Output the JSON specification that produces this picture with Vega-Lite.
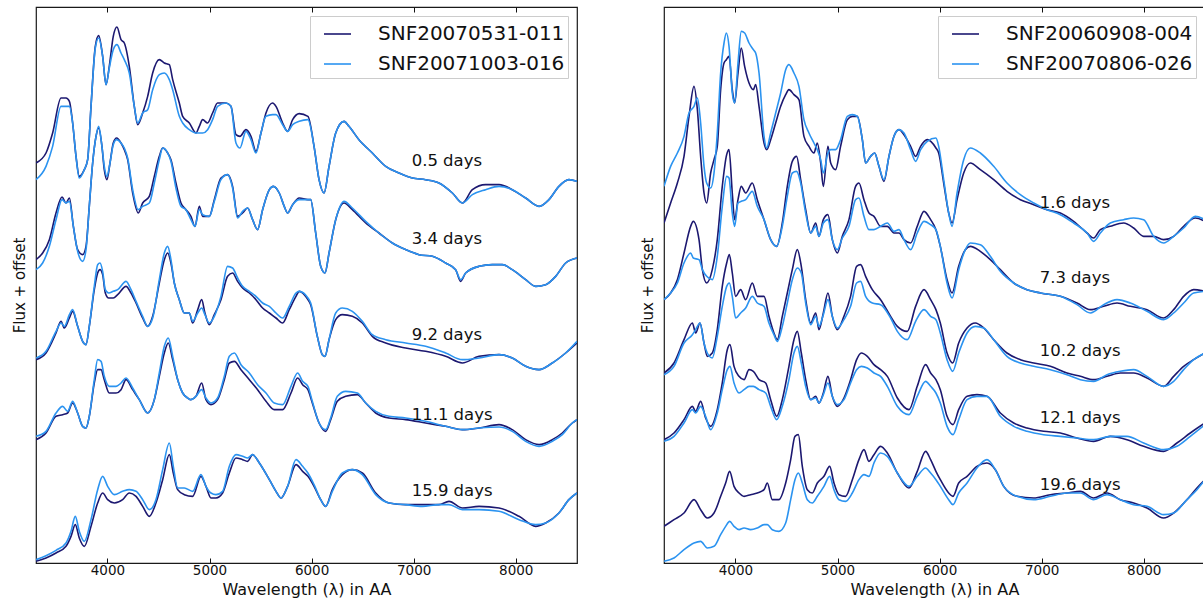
{
"$schema": "https://vega.github.io/schema/vega-lite/v6.json",
"background": "white",
"padding": {"left": 11, "top": 5, "right": 0, "bottom": 5},
"config": {
  "font": "DejaVu Sans",
  "view": {"stroke": "#1a1a1a", "strokeWidth": 1.2},
  "axis": {"grid": false, "labelFont": "DejaVu Sans", "titleFont": "DejaVu Sans", "titleFontWeight": "normal", "labelColor": "#111111", "titleColor": "#111111", "tickColor": "#111111"},
  "legend": {"title": null, "orient": "top-right", "offset": 9, "padding": 3.5, "fillColor": "#ffffff", "strokeColor": "#cccccc", "strokeWidth": 1, "cornerRadius": 0, "symbolType": "stroke", "symbolSize": 729, "symbolStrokeWidth": 1.6, "symbolOffset": 9.5, "labelFontSize": 20, "labelFont": "DejaVu Sans", "labelColor": "#111111", "labelOffset": 26, "rowPadding": 5, "labelLimit": 400}
},
"datasets": {
"namesL": [{"s":"a","n":"SNF20070531-011"},{"s":"b","n":"SNF20071003-016"}],
"namesR": [{"s":"a","n":"SNF20060908-004"},{"s":"b","n":"SNF20070806-026"}],
"labL": [{"w":6980,"f":12.05,"t":"0.5 days"},{"w":6980,"f":9.73,"t":"3.4 days"},{"w":6980,"f":6.85,"t":"9.2 days"},{"w":6980,"f":4.45,"t":"11.1 days"},{"w":6980,"f":2.15,"t":"15.9 days"}],
"labR": [{"w":6980,"f":10.8,"t":"1.6 days"},{"w":6980,"f":8.55,"t":"7.3 days"},{"w":6980,"f":6.37,"t":"10.2 days"},{"w":6980,"f":4.35,"t":"12.1 days"},{"w":6980,"f":2.33,"t":"19.6 days"}],
"specL": [
{"e":1,"s":"a","w":3300,"f":12},{"e":1,"s":"a","w":3398,"f":12.3},{"e":1,"s":"a","w":3463,"f":12.9},{"e":1,"s":"a","w":3545,"f":13.95},{"e":1,"s":"a","w":3594,"f":13.95},{"e":1,"s":"a","w":3627,"f":13.85},{"e":1,"s":"a","w":3659,"f":13.2},{"e":1,"s":"a","w":3692,"f":12.2},{"e":1,"s":"a","w":3724,"f":11.6},{"e":1,"s":"a","w":3773,"f":11.8},{"e":1,"s":"a","w":3806,"f":12.1},{"e":1,"s":"a","w":3839,"f":13.7},{"e":1,"s":"a","w":3881,"f":15.5},{"e":1,"s":"a","w":3914,"f":15.82},{"e":1,"s":"a","w":3953,"f":15.2},{"e":1,"s":"a","w":3986,"f":14.35},{"e":1,"s":"a","w":4018,"f":14.9},{"e":1,"s":"a","w":4057,"f":15.8},{"e":1,"s":"a","w":4093,"f":16.08},{"e":1,"s":"a","w":4133,"f":15.7},{"e":1,"s":"a","w":4165,"f":15.6},{"e":1,"s":"a","w":4214,"f":14.9},{"e":1,"s":"a","w":4263,"f":13.7},{"e":1,"s":"a","w":4296,"f":13.15},{"e":1,"s":"a","w":4345,"f":13.5},{"e":1,"s":"a","w":4394,"f":14},{"e":1,"s":"a","w":4443,"f":14.7},{"e":1,"s":"a","w":4508,"f":15.1},{"e":1,"s":"a","w":4557,"f":15},{"e":1,"s":"a","w":4606,"f":14.95},{"e":1,"s":"a","w":4639,"f":14.5},{"e":1,"s":"a","w":4704,"f":13.8},{"e":1,"s":"a","w":4737,"f":13.4},{"e":1,"s":"a","w":4802,"f":13.2},{"e":1,"s":"a","w":4867,"f":12.9},{"e":1,"s":"a","w":4900,"f":13.1},{"e":1,"s":"a","w":4933,"f":13.3},{"e":1,"s":"a","w":4981,"f":13.2},{"e":1,"s":"a","w":5030,"f":13.5},{"e":1,"s":"a","w":5079,"f":13.8},{"e":1,"s":"a","w":5161,"f":13.8},{"e":1,"s":"a","w":5210,"f":13.7},{"e":1,"s":"a","w":5259,"f":12.85},{"e":1,"s":"a","w":5298,"f":12.8},{"e":1,"s":"a","w":5357,"f":13},{"e":1,"s":"a","w":5406,"f":12.8},{"e":1,"s":"a","w":5455,"f":12.35},{"e":1,"s":"a","w":5504,"f":12.9},{"e":1,"s":"a","w":5553,"f":13.5},{"e":1,"s":"a","w":5618,"f":13.8},{"e":1,"s":"a","w":5651,"f":13.7},{"e":1,"s":"a","w":5716,"f":13.2},{"e":1,"s":"a","w":5765,"f":12.95},{"e":1,"s":"a","w":5814,"f":13.3},{"e":1,"s":"a","w":5879,"f":13.48},{"e":1,"s":"a","w":5964,"f":13.4},{"e":1,"s":"a","w":6024,"f":12.5},{"e":1,"s":"a","w":6073,"f":11.5},{"e":1,"s":"a","w":6122,"f":11.1},{"e":1,"s":"a","w":6171,"f":11.9},{"e":1,"s":"a","w":6236,"f":12.9},{"e":1,"s":"a","w":6318,"f":13.25},{"e":1,"s":"a","w":6366,"f":13.1},{"e":1,"s":"a","w":6464,"f":12.7},{"e":1,"s":"a","w":6595,"f":12.3},{"e":1,"s":"a","w":6726,"f":11.9},{"e":1,"s":"a","w":6856,"f":11.7},{"e":1,"s":"a","w":6987,"f":11.55},{"e":1,"s":"a","w":7117,"f":11.5},{"e":1,"s":"a","w":7248,"f":11.4},{"e":1,"s":"a","w":7379,"f":11.1},{"e":1,"s":"a","w":7477,"f":10.8},{"e":1,"s":"a","w":7575,"f":11.2},{"e":1,"s":"a","w":7705,"f":11.35},{"e":1,"s":"a","w":7836,"f":11.35},{"e":1,"s":"a","w":7966,"f":11.2},{"e":1,"s":"a","w":8097,"f":10.95},{"e":1,"s":"a","w":8228,"f":10.7},{"e":1,"s":"a","w":8325,"f":10.9},{"e":1,"s":"a","w":8423,"f":11.3},{"e":1,"s":"a","w":8521,"f":11.5},{"e":1,"s":"a","w":8600,"f":11.45},
{"e":2,"s":"a","w":3300,"f":9.1},{"e":2,"s":"a","w":3365,"f":9.3},{"e":2,"s":"a","w":3431,"f":9.7},{"e":2,"s":"a","w":3496,"f":10.5},{"e":2,"s":"a","w":3555,"f":10.98},{"e":2,"s":"a","w":3594,"f":10.8},{"e":2,"s":"a","w":3627,"f":10.95},{"e":2,"s":"a","w":3666,"f":10.1},{"e":2,"s":"a","w":3708,"f":9.4},{"e":2,"s":"a","w":3757,"f":9.25},{"e":2,"s":"a","w":3790,"f":9.5},{"e":2,"s":"a","w":3822,"f":10.7},{"e":2,"s":"a","w":3855,"f":12},{"e":2,"s":"a","w":3888,"f":12.8},{"e":2,"s":"a","w":3914,"f":13.05},{"e":2,"s":"a","w":3946,"f":12.5},{"e":2,"s":"a","w":3969,"f":11.8},{"e":2,"s":"a","w":3995,"f":11.5},{"e":2,"s":"a","w":4025,"f":12},{"e":2,"s":"a","w":4057,"f":12.6},{"e":2,"s":"a","w":4090,"f":12.75},{"e":2,"s":"a","w":4133,"f":12.6},{"e":2,"s":"a","w":4165,"f":12.4},{"e":2,"s":"a","w":4198,"f":12.1},{"e":2,"s":"a","w":4247,"f":11.1},{"e":2,"s":"a","w":4302,"f":10.5},{"e":2,"s":"a","w":4345,"f":10.8},{"e":2,"s":"a","w":4410,"f":11},{"e":2,"s":"a","w":4459,"f":11.6},{"e":2,"s":"a","w":4508,"f":12.2},{"e":2,"s":"a","w":4541,"f":12.45},{"e":2,"s":"a","w":4590,"f":12.3},{"e":2,"s":"a","w":4622,"f":12.1},{"e":2,"s":"a","w":4671,"f":11.4},{"e":2,"s":"a","w":4720,"f":10.8},{"e":2,"s":"a","w":4769,"f":10.6},{"e":2,"s":"a","w":4818,"f":10.4},{"e":2,"s":"a","w":4857,"f":10.1},{"e":2,"s":"a","w":4900,"f":10.7},{"e":2,"s":"a","w":4933,"f":10.4},{"e":2,"s":"a","w":4998,"f":10.4},{"e":2,"s":"a","w":5047,"f":10.9},{"e":2,"s":"a","w":5112,"f":11.55},{"e":2,"s":"a","w":5177,"f":11.65},{"e":2,"s":"a","w":5226,"f":11.3},{"e":2,"s":"a","w":5275,"f":10.4},{"e":2,"s":"a","w":5324,"f":10.5},{"e":2,"s":"a","w":5373,"f":10.65},{"e":2,"s":"a","w":5422,"f":10.3},{"e":2,"s":"a","w":5471,"f":10},{"e":2,"s":"a","w":5520,"f":10.6},{"e":2,"s":"a","w":5586,"f":11.2},{"e":2,"s":"a","w":5625,"f":11.3},{"e":2,"s":"a","w":5683,"f":11.1},{"e":2,"s":"a","w":5732,"f":10.7},{"e":2,"s":"a","w":5765,"f":10.5},{"e":2,"s":"a","w":5814,"f":10.75},{"e":2,"s":"a","w":5879,"f":10.95},{"e":2,"s":"a","w":5964,"f":10.9},{"e":2,"s":"a","w":5991,"f":10.9},{"e":2,"s":"a","w":6040,"f":9.9},{"e":2,"s":"a","w":6089,"f":8.9},{"e":2,"s":"a","w":6131,"f":8.7},{"e":2,"s":"a","w":6171,"f":9.3},{"e":2,"s":"a","w":6236,"f":10.3},{"e":2,"s":"a","w":6318,"f":10.8},{"e":2,"s":"a","w":6399,"f":10.6},{"e":2,"s":"a","w":6530,"f":10.2},{"e":2,"s":"a","w":6660,"f":9.9},{"e":2,"s":"a","w":6791,"f":9.6},{"e":2,"s":"a","w":6922,"f":9.4},{"e":2,"s":"a","w":7052,"f":9.25},{"e":2,"s":"a","w":7183,"f":9.2},{"e":2,"s":"a","w":7313,"f":9},{"e":2,"s":"a","w":7411,"f":8.8},{"e":2,"s":"a","w":7460,"f":8.45},{"e":2,"s":"a","w":7509,"f":8.7},{"e":2,"s":"a","w":7640,"f":8.9},{"e":2,"s":"a","w":7770,"f":8.95},{"e":2,"s":"a","w":7868,"f":8.95},{"e":2,"s":"a","w":7966,"f":8.8},{"e":2,"s":"a","w":8097,"f":8.5},{"e":2,"s":"a","w":8195,"f":8.3},{"e":2,"s":"a","w":8293,"f":8.35},{"e":2,"s":"a","w":8391,"f":8.6},{"e":2,"s":"a","w":8489,"f":9},{"e":2,"s":"a","w":8600,"f":9.15},
{"e":3,"s":"a","w":3300,"f":6.1},{"e":3,"s":"a","w":3398,"f":6.3},{"e":3,"s":"a","w":3496,"f":6.9},{"e":3,"s":"a","w":3545,"f":7.25},{"e":3,"s":"a","w":3578,"f":7.05},{"e":3,"s":"a","w":3627,"f":7.35},{"e":3,"s":"a","w":3659,"f":7.55},{"e":3,"s":"a","w":3708,"f":7.1},{"e":3,"s":"a","w":3757,"f":6.65},{"e":3,"s":"a","w":3790,"f":6.55},{"e":3,"s":"a","w":3822,"f":7.1},{"e":3,"s":"a","w":3871,"f":8.2},{"e":3,"s":"a","w":3904,"f":8.7},{"e":3,"s":"a","w":3927,"f":8.8},{"e":3,"s":"a","w":3953,"f":8.65},{"e":3,"s":"a","w":3979,"f":8.1},{"e":3,"s":"a","w":4012,"f":7.95},{"e":3,"s":"a","w":4057,"f":7.95},{"e":3,"s":"a","w":4100,"f":8.05},{"e":3,"s":"a","w":4182,"f":8.3},{"e":3,"s":"a","w":4231,"f":8.1},{"e":3,"s":"a","w":4280,"f":7.8},{"e":3,"s":"a","w":4345,"f":7.35},{"e":3,"s":"a","w":4394,"f":7.1},{"e":3,"s":"a","w":4443,"f":7.4},{"e":3,"s":"a","w":4508,"f":8.4},{"e":3,"s":"a","w":4557,"f":9.1},{"e":3,"s":"a","w":4590,"f":9.3},{"e":3,"s":"a","w":4622,"f":9},{"e":3,"s":"a","w":4655,"f":8.4},{"e":3,"s":"a","w":4704,"f":7.9},{"e":3,"s":"a","w":4753,"f":7.5},{"e":3,"s":"a","w":4802,"f":7.5},{"e":3,"s":"a","w":4835,"f":7.2},{"e":3,"s":"a","w":4884,"f":7.6},{"e":3,"s":"a","w":4923,"f":7.9},{"e":3,"s":"a","w":4955,"f":7.5},{"e":3,"s":"a","w":4998,"f":7.15},{"e":3,"s":"a","w":5047,"f":7.45},{"e":3,"s":"a","w":5112,"f":7.9},{"e":3,"s":"a","w":5177,"f":8.6},{"e":3,"s":"a","w":5226,"f":8.7},{"e":3,"s":"a","w":5275,"f":8.45},{"e":3,"s":"a","w":5324,"f":8.25},{"e":3,"s":"a","w":5390,"f":8.1},{"e":3,"s":"a","w":5455,"f":7.9},{"e":3,"s":"a","w":5520,"f":7.65},{"e":3,"s":"a","w":5586,"f":7.5},{"e":3,"s":"a","w":5651,"f":7.35},{"e":3,"s":"a","w":5716,"f":7.2},{"e":3,"s":"a","w":5781,"f":7.6},{"e":3,"s":"a","w":5847,"f":8},{"e":3,"s":"a","w":5879,"f":8.15},{"e":3,"s":"a","w":5964,"f":7.9},{"e":3,"s":"a","w":5991,"f":7.75},{"e":3,"s":"a","w":6056,"f":6.8},{"e":3,"s":"a","w":6105,"f":6.25},{"e":3,"s":"a","w":6131,"f":6.2},{"e":3,"s":"a","w":6171,"f":6.7},{"e":3,"s":"a","w":6236,"f":7.3},{"e":3,"s":"a","w":6301,"f":7.45},{"e":3,"s":"a","w":6399,"f":7.4},{"e":3,"s":"a","w":6497,"f":7.2},{"e":3,"s":"a","w":6595,"f":6.8},{"e":3,"s":"a","w":6726,"f":6.6},{"e":3,"s":"a","w":6922,"f":6.45},{"e":3,"s":"a","w":7117,"f":6.35},{"e":3,"s":"a","w":7313,"f":6.2},{"e":3,"s":"a","w":7477,"f":6},{"e":3,"s":"a","w":7640,"f":6.2},{"e":3,"s":"a","w":7836,"f":6.25},{"e":3,"s":"a","w":7966,"f":6.15},{"e":3,"s":"a","w":8097,"f":5.9},{"e":3,"s":"a","w":8228,"f":5.8},{"e":3,"s":"a","w":8358,"f":6},{"e":3,"s":"a","w":8489,"f":6.3},{"e":3,"s":"a","w":8600,"f":6.6},
{"e":4,"s":"a","w":3300,"f":3.7},{"e":4,"s":"a","w":3398,"f":3.9},{"e":4,"s":"a","w":3496,"f":4.4},{"e":4,"s":"a","w":3561,"f":4.45},{"e":4,"s":"a","w":3610,"f":4.5},{"e":4,"s":"a","w":3659,"f":4.8},{"e":4,"s":"a","w":3708,"f":4.5},{"e":4,"s":"a","w":3757,"f":4.1},{"e":4,"s":"a","w":3790,"f":4.05},{"e":4,"s":"a","w":3822,"f":4.4},{"e":4,"s":"a","w":3871,"f":5.4},{"e":4,"s":"a","w":3904,"f":5.8},{"e":4,"s":"a","w":3937,"f":5.8},{"e":4,"s":"a","w":3969,"f":5.5},{"e":4,"s":"a","w":4018,"f":5.1},{"e":4,"s":"a","w":4084,"f":5.1},{"e":4,"s":"a","w":4133,"f":5.2},{"e":4,"s":"a","w":4182,"f":5.5},{"e":4,"s":"a","w":4247,"f":5.2},{"e":4,"s":"a","w":4312,"f":4.9},{"e":4,"s":"a","w":4394,"f":4.5},{"e":4,"s":"a","w":4459,"f":4.9},{"e":4,"s":"a","w":4508,"f":5.6},{"e":4,"s":"a","w":4557,"f":6.3},{"e":4,"s":"a","w":4596,"f":6.6},{"e":4,"s":"a","w":4639,"f":6.1},{"e":4,"s":"a","w":4688,"f":5.5},{"e":4,"s":"a","w":4737,"f":5.1},{"e":4,"s":"a","w":4786,"f":4.95},{"e":4,"s":"a","w":4818,"f":4.9},{"e":4,"s":"a","w":4867,"f":5},{"e":4,"s":"a","w":4923,"f":5.4},{"e":4,"s":"a","w":4965,"f":4.9},{"e":4,"s":"a","w":5014,"f":4.75},{"e":4,"s":"a","w":5079,"f":4.9},{"e":4,"s":"a","w":5145,"f":5.5},{"e":4,"s":"a","w":5194,"f":6},{"e":4,"s":"a","w":5243,"f":6.05},{"e":4,"s":"a","w":5308,"f":5.8},{"e":4,"s":"a","w":5390,"f":5.5},{"e":4,"s":"a","w":5471,"f":5.2},{"e":4,"s":"a","w":5553,"f":4.85},{"e":4,"s":"a","w":5634,"f":4.6},{"e":4,"s":"a","w":5716,"f":4.6},{"e":4,"s":"a","w":5798,"f":5.1},{"e":4,"s":"a","w":5863,"f":5.55},{"e":4,"s":"a","w":5912,"f":5.35},{"e":4,"s":"a","w":5964,"f":5.2},{"e":4,"s":"a","w":6007,"f":4.8},{"e":4,"s":"a","w":6073,"f":4.2},{"e":4,"s":"a","w":6138,"f":3.95},{"e":4,"s":"a","w":6187,"f":4.3},{"e":4,"s":"a","w":6252,"f":4.85},{"e":4,"s":"a","w":6334,"f":5},{"e":4,"s":"a","w":6448,"f":5.05},{"e":4,"s":"a","w":6530,"f":4.8},{"e":4,"s":"a","w":6628,"f":4.5},{"e":4,"s":"a","w":6758,"f":4.35},{"e":4,"s":"a","w":6922,"f":4.3},{"e":4,"s":"a","w":7117,"f":4.2},{"e":4,"s":"a","w":7313,"f":4.1},{"e":4,"s":"a","w":7477,"f":4},{"e":4,"s":"a","w":7640,"f":4.05},{"e":4,"s":"a","w":7836,"f":4.15},{"e":4,"s":"a","w":7966,"f":4},{"e":4,"s":"a","w":8097,"f":3.7},{"e":4,"s":"a","w":8228,"f":3.55},{"e":4,"s":"a","w":8358,"f":3.7},{"e":4,"s":"a","w":8456,"f":3.9},{"e":4,"s":"a","w":8554,"f":4.2},{"e":4,"s":"a","w":8600,"f":4.3},
{"e":5,"s":"a","w":3300,"f":0.05},{"e":5,"s":"a","w":3398,"f":0.15},{"e":5,"s":"a","w":3496,"f":0.3},{"e":5,"s":"a","w":3594,"f":0.5},{"e":5,"s":"a","w":3643,"f":0.8},{"e":5,"s":"a","w":3685,"f":1.15},{"e":5,"s":"a","w":3724,"f":0.75},{"e":5,"s":"a","w":3773,"f":0.5},{"e":5,"s":"a","w":3839,"f":1.1},{"e":5,"s":"a","w":3904,"f":1.8},{"e":5,"s":"a","w":3953,"f":2.1},{"e":5,"s":"a","w":4002,"f":1.9},{"e":5,"s":"a","w":4067,"f":1.8},{"e":5,"s":"a","w":4149,"f":1.9},{"e":5,"s":"a","w":4214,"f":2.1},{"e":5,"s":"a","w":4280,"f":2},{"e":5,"s":"a","w":4345,"f":1.7},{"e":5,"s":"a","w":4410,"f":1.4},{"e":5,"s":"a","w":4475,"f":1.8},{"e":5,"s":"a","w":4541,"f":2.5},{"e":5,"s":"a","w":4606,"f":3.25},{"e":5,"s":"a","w":4645,"f":2.7},{"e":5,"s":"a","w":4688,"f":2.2},{"e":5,"s":"a","w":4753,"f":2.05},{"e":5,"s":"a","w":4835,"f":2},{"e":5,"s":"a","w":4916,"f":2.6},{"e":5,"s":"a","w":4965,"f":2.3},{"e":5,"s":"a","w":5014,"f":1.95},{"e":5,"s":"a","w":5063,"f":1.95},{"e":5,"s":"a","w":5128,"f":2.1},{"e":5,"s":"a","w":5194,"f":2.7},{"e":5,"s":"a","w":5259,"f":3.15},{"e":5,"s":"a","w":5324,"f":3.1},{"e":5,"s":"a","w":5373,"f":3.05},{"e":5,"s":"a","w":5422,"f":3.25},{"e":5,"s":"a","w":5488,"f":3},{"e":5,"s":"a","w":5586,"f":2.5},{"e":5,"s":"a","w":5651,"f":2.15},{"e":5,"s":"a","w":5700,"f":1.95},{"e":5,"s":"a","w":5765,"f":2.3},{"e":5,"s":"a","w":5847,"f":2.95},{"e":5,"s":"a","w":5912,"f":2.75},{"e":5,"s":"a","w":5964,"f":2.6},{"e":5,"s":"a","w":6024,"f":2.3},{"e":5,"s":"a","w":6089,"f":1.9},{"e":5,"s":"a","w":6138,"f":1.7},{"e":5,"s":"a","w":6203,"f":2.2},{"e":5,"s":"a","w":6301,"f":2.65},{"e":5,"s":"a","w":6399,"f":2.8},{"e":5,"s":"a","w":6497,"f":2.7},{"e":5,"s":"a","w":6628,"f":2.1},{"e":5,"s":"a","w":6758,"f":1.8},{"e":5,"s":"a","w":6922,"f":1.75},{"e":5,"s":"a","w":7085,"f":1.75},{"e":5,"s":"a","w":7248,"f":1.75},{"e":5,"s":"a","w":7346,"f":1.85},{"e":5,"s":"a","w":7477,"f":1.65},{"e":5,"s":"a","w":7640,"f":1.7},{"e":5,"s":"a","w":7836,"f":1.65},{"e":5,"s":"a","w":8032,"f":1.4},{"e":5,"s":"a","w":8195,"f":1.1},{"e":5,"s":"a","w":8293,"f":1.2},{"e":5,"s":"a","w":8423,"f":1.5},{"e":5,"s":"a","w":8521,"f":1.9},{"e":5,"s":"a","w":8600,"f":2.1},
{"e":1,"s":"b","w":3300,"f":11.5},{"e":1,"s":"b","w":3398,"f":11.9},{"e":1,"s":"b","w":3463,"f":12.5},{"e":1,"s":"b","w":3545,"f":13.7},{"e":1,"s":"b","w":3594,"f":13.7},{"e":1,"s":"b","w":3627,"f":13.7},{"e":1,"s":"b","w":3659,"f":13.2},{"e":1,"s":"b","w":3692,"f":12.2},{"e":1,"s":"b","w":3724,"f":11.55},{"e":1,"s":"b","w":3773,"f":11.8},{"e":1,"s":"b","w":3806,"f":12.1},{"e":1,"s":"b","w":3839,"f":13.7},{"e":1,"s":"b","w":3881,"f":15.45},{"e":1,"s":"b","w":3914,"f":15.75},{"e":1,"s":"b","w":3953,"f":15.2},{"e":1,"s":"b","w":3986,"f":14.35},{"e":1,"s":"b","w":4018,"f":14.85},{"e":1,"s":"b","w":4057,"f":15.4},{"e":1,"s":"b","w":4093,"f":15.55},{"e":1,"s":"b","w":4133,"f":15.3},{"e":1,"s":"b","w":4165,"f":15.1},{"e":1,"s":"b","w":4214,"f":14.7},{"e":1,"s":"b","w":4263,"f":13.7},{"e":1,"s":"b","w":4296,"f":13.2},{"e":1,"s":"b","w":4345,"f":13.5},{"e":1,"s":"b","w":4394,"f":13.6},{"e":1,"s":"b","w":4443,"f":14.2},{"e":1,"s":"b","w":4508,"f":14.65},{"e":1,"s":"b","w":4557,"f":14.7},{"e":1,"s":"b","w":4606,"f":14.5},{"e":1,"s":"b","w":4639,"f":14.2},{"e":1,"s":"b","w":4704,"f":13.4},{"e":1,"s":"b","w":4737,"f":13.2},{"e":1,"s":"b","w":4802,"f":13},{"e":1,"s":"b","w":4867,"f":12.9},{"e":1,"s":"b","w":4900,"f":12.9},{"e":1,"s":"b","w":4933,"f":12.9},{"e":1,"s":"b","w":4981,"f":13},{"e":1,"s":"b","w":5030,"f":13.3},{"e":1,"s":"b","w":5079,"f":13.7},{"e":1,"s":"b","w":5161,"f":13.8},{"e":1,"s":"b","w":5210,"f":13.7},{"e":1,"s":"b","w":5259,"f":12.6},{"e":1,"s":"b","w":5298,"f":12.45},{"e":1,"s":"b","w":5357,"f":12.95},{"e":1,"s":"b","w":5406,"f":12.7},{"e":1,"s":"b","w":5455,"f":12.3},{"e":1,"s":"b","w":5504,"f":12.9},{"e":1,"s":"b","w":5553,"f":13.4},{"e":1,"s":"b","w":5618,"f":13.45},{"e":1,"s":"b","w":5651,"f":13.45},{"e":1,"s":"b","w":5716,"f":13.15},{"e":1,"s":"b","w":5765,"f":12.95},{"e":1,"s":"b","w":5814,"f":13.15},{"e":1,"s":"b","w":5879,"f":13.25},{"e":1,"s":"b","w":5964,"f":13.3},{"e":1,"s":"b","w":6024,"f":12.5},{"e":1,"s":"b","w":6073,"f":11.5},{"e":1,"s":"b","w":6122,"f":11.1},{"e":1,"s":"b","w":6171,"f":11.9},{"e":1,"s":"b","w":6236,"f":12.9},{"e":1,"s":"b","w":6318,"f":13.25},{"e":1,"s":"b","w":6366,"f":13.1},{"e":1,"s":"b","w":6464,"f":12.7},{"e":1,"s":"b","w":6595,"f":12.3},{"e":1,"s":"b","w":6726,"f":11.9},{"e":1,"s":"b","w":6856,"f":11.7},{"e":1,"s":"b","w":6987,"f":11.55},{"e":1,"s":"b","w":7117,"f":11.5},{"e":1,"s":"b","w":7248,"f":11.4},{"e":1,"s":"b","w":7379,"f":11.1},{"e":1,"s":"b","w":7477,"f":10.8},{"e":1,"s":"b","w":7575,"f":11.05},{"e":1,"s":"b","w":7705,"f":11.2},{"e":1,"s":"b","w":7836,"f":11.3},{"e":1,"s":"b","w":7966,"f":11.2},{"e":1,"s":"b","w":8097,"f":10.95},{"e":1,"s":"b","w":8228,"f":10.7},{"e":1,"s":"b","w":8325,"f":10.9},{"e":1,"s":"b","w":8423,"f":11.3},{"e":1,"s":"b","w":8521,"f":11.5},{"e":1,"s":"b","w":8600,"f":11.45},
{"e":2,"s":"b","w":3300,"f":8.8},{"e":2,"s":"b","w":3365,"f":9},{"e":2,"s":"b","w":3431,"f":9.5},{"e":2,"s":"b","w":3496,"f":10.3},{"e":2,"s":"b","w":3555,"f":10.9},{"e":2,"s":"b","w":3594,"f":10.8},{"e":2,"s":"b","w":3627,"f":10.85},{"e":2,"s":"b","w":3666,"f":10.1},{"e":2,"s":"b","w":3708,"f":9.35},{"e":2,"s":"b","w":3757,"f":9.05},{"e":2,"s":"b","w":3790,"f":9.4},{"e":2,"s":"b","w":3822,"f":10.7},{"e":2,"s":"b","w":3855,"f":12},{"e":2,"s":"b","w":3888,"f":12.8},{"e":2,"s":"b","w":3914,"f":13.1},{"e":2,"s":"b","w":3946,"f":12.5},{"e":2,"s":"b","w":3969,"f":11.9},{"e":2,"s":"b","w":3995,"f":11.6},{"e":2,"s":"b","w":4025,"f":12},{"e":2,"s":"b","w":4057,"f":12.55},{"e":2,"s":"b","w":4090,"f":12.7},{"e":2,"s":"b","w":4133,"f":12.6},{"e":2,"s":"b","w":4165,"f":12.45},{"e":2,"s":"b","w":4198,"f":12.15},{"e":2,"s":"b","w":4247,"f":11.2},{"e":2,"s":"b","w":4302,"f":10.6},{"e":2,"s":"b","w":4345,"f":10.7},{"e":2,"s":"b","w":4410,"f":10.8},{"e":2,"s":"b","w":4459,"f":11.4},{"e":2,"s":"b","w":4508,"f":12.1},{"e":2,"s":"b","w":4541,"f":12.45},{"e":2,"s":"b","w":4590,"f":12.3},{"e":2,"s":"b","w":4622,"f":12.05},{"e":2,"s":"b","w":4671,"f":11.25},{"e":2,"s":"b","w":4720,"f":10.7},{"e":2,"s":"b","w":4769,"f":10.6},{"e":2,"s":"b","w":4818,"f":10.3},{"e":2,"s":"b","w":4857,"f":10.1},{"e":2,"s":"b","w":4900,"f":10.6},{"e":2,"s":"b","w":4933,"f":10.45},{"e":2,"s":"b","w":4998,"f":10.4},{"e":2,"s":"b","w":5047,"f":10.85},{"e":2,"s":"b","w":5112,"f":11.5},{"e":2,"s":"b","w":5177,"f":11.65},{"e":2,"s":"b","w":5226,"f":11.25},{"e":2,"s":"b","w":5275,"f":10.35},{"e":2,"s":"b","w":5324,"f":10.55},{"e":2,"s":"b","w":5373,"f":10.65},{"e":2,"s":"b","w":5422,"f":10.3},{"e":2,"s":"b","w":5471,"f":10},{"e":2,"s":"b","w":5520,"f":10.6},{"e":2,"s":"b","w":5586,"f":11.2},{"e":2,"s":"b","w":5625,"f":11.3},{"e":2,"s":"b","w":5683,"f":11.1},{"e":2,"s":"b","w":5732,"f":10.7},{"e":2,"s":"b","w":5765,"f":10.5},{"e":2,"s":"b","w":5814,"f":10.75},{"e":2,"s":"b","w":5879,"f":10.9},{"e":2,"s":"b","w":5964,"f":10.9},{"e":2,"s":"b","w":5991,"f":10.9},{"e":2,"s":"b","w":6040,"f":9.9},{"e":2,"s":"b","w":6089,"f":8.9},{"e":2,"s":"b","w":6131,"f":8.7},{"e":2,"s":"b","w":6171,"f":9.3},{"e":2,"s":"b","w":6236,"f":10.3},{"e":2,"s":"b","w":6318,"f":10.85},{"e":2,"s":"b","w":6399,"f":10.65},{"e":2,"s":"b","w":6530,"f":10.25},{"e":2,"s":"b","w":6660,"f":9.9},{"e":2,"s":"b","w":6791,"f":9.6},{"e":2,"s":"b","w":6922,"f":9.4},{"e":2,"s":"b","w":7052,"f":9.25},{"e":2,"s":"b","w":7183,"f":9.2},{"e":2,"s":"b","w":7313,"f":9},{"e":2,"s":"b","w":7411,"f":8.8},{"e":2,"s":"b","w":7460,"f":8.5},{"e":2,"s":"b","w":7509,"f":8.7},{"e":2,"s":"b","w":7640,"f":8.9},{"e":2,"s":"b","w":7770,"f":8.95},{"e":2,"s":"b","w":7868,"f":8.95},{"e":2,"s":"b","w":7966,"f":8.8},{"e":2,"s":"b","w":8097,"f":8.5},{"e":2,"s":"b","w":8195,"f":8.3},{"e":2,"s":"b","w":8293,"f":8.35},{"e":2,"s":"b","w":8391,"f":8.6},{"e":2,"s":"b","w":8489,"f":9},{"e":2,"s":"b","w":8600,"f":9.15},
{"e":3,"s":"b","w":3300,"f":6.15},{"e":3,"s":"b","w":3398,"f":6.35},{"e":3,"s":"b","w":3496,"f":6.95},{"e":3,"s":"b","w":3545,"f":7.2},{"e":3,"s":"b","w":3578,"f":7.1},{"e":3,"s":"b","w":3627,"f":7.45},{"e":3,"s":"b","w":3659,"f":7.6},{"e":3,"s":"b","w":3708,"f":7.1},{"e":3,"s":"b","w":3757,"f":6.65},{"e":3,"s":"b","w":3790,"f":6.55},{"e":3,"s":"b","w":3822,"f":7.1},{"e":3,"s":"b","w":3871,"f":8.3},{"e":3,"s":"b","w":3904,"f":8.95},{"e":3,"s":"b","w":3927,"f":9},{"e":3,"s":"b","w":3953,"f":8.75},{"e":3,"s":"b","w":3979,"f":8.2},{"e":3,"s":"b","w":4012,"f":8.1},{"e":3,"s":"b","w":4057,"f":8.15},{"e":3,"s":"b","w":4100,"f":8.2},{"e":3,"s":"b","w":4182,"f":8.45},{"e":3,"s":"b","w":4231,"f":8.2},{"e":3,"s":"b","w":4280,"f":7.85},{"e":3,"s":"b","w":4345,"f":7.4},{"e":3,"s":"b","w":4394,"f":7.1},{"e":3,"s":"b","w":4443,"f":7.35},{"e":3,"s":"b","w":4508,"f":8.5},{"e":3,"s":"b","w":4557,"f":9.3},{"e":3,"s":"b","w":4590,"f":9.5},{"e":3,"s":"b","w":4622,"f":9.1},{"e":3,"s":"b","w":4655,"f":8.4},{"e":3,"s":"b","w":4704,"f":7.9},{"e":3,"s":"b","w":4753,"f":7.5},{"e":3,"s":"b","w":4802,"f":7.5},{"e":3,"s":"b","w":4835,"f":7.25},{"e":3,"s":"b","w":4884,"f":7.5},{"e":3,"s":"b","w":4923,"f":7.65},{"e":3,"s":"b","w":4955,"f":7.45},{"e":3,"s":"b","w":4998,"f":7.2},{"e":3,"s":"b","w":5047,"f":7.4},{"e":3,"s":"b","w":5112,"f":8},{"e":3,"s":"b","w":5177,"f":8.9},{"e":3,"s":"b","w":5226,"f":8.85},{"e":3,"s":"b","w":5275,"f":8.55},{"e":3,"s":"b","w":5324,"f":8.3},{"e":3,"s":"b","w":5390,"f":8.15},{"e":3,"s":"b","w":5455,"f":8},{"e":3,"s":"b","w":5520,"f":7.8},{"e":3,"s":"b","w":5586,"f":7.7},{"e":3,"s":"b","w":5651,"f":7.5},{"e":3,"s":"b","w":5716,"f":7.35},{"e":3,"s":"b","w":5781,"f":7.7},{"e":3,"s":"b","w":5847,"f":8.1},{"e":3,"s":"b","w":5879,"f":8.15},{"e":3,"s":"b","w":5964,"f":7.95},{"e":3,"s":"b","w":5991,"f":7.8},{"e":3,"s":"b","w":6056,"f":6.8},{"e":3,"s":"b","w":6105,"f":6.25},{"e":3,"s":"b","w":6131,"f":6.2},{"e":3,"s":"b","w":6171,"f":6.7},{"e":3,"s":"b","w":6236,"f":7.5},{"e":3,"s":"b","w":6301,"f":7.65},{"e":3,"s":"b","w":6399,"f":7.55},{"e":3,"s":"b","w":6497,"f":7.25},{"e":3,"s":"b","w":6595,"f":6.85},{"e":3,"s":"b","w":6726,"f":6.7},{"e":3,"s":"b","w":6922,"f":6.6},{"e":3,"s":"b","w":7117,"f":6.5},{"e":3,"s":"b","w":7313,"f":6.3},{"e":3,"s":"b","w":7477,"f":6.1},{"e":3,"s":"b","w":7640,"f":6.15},{"e":3,"s":"b","w":7836,"f":6.25},{"e":3,"s":"b","w":7966,"f":6.15},{"e":3,"s":"b","w":8097,"f":5.9},{"e":3,"s":"b","w":8228,"f":5.8},{"e":3,"s":"b","w":8358,"f":6},{"e":3,"s":"b","w":8489,"f":6.3},{"e":3,"s":"b","w":8600,"f":6.65},
{"e":4,"s":"b","w":3300,"f":3.8},{"e":4,"s":"b","w":3398,"f":3.95},{"e":4,"s":"b","w":3496,"f":4.5},{"e":4,"s":"b","w":3561,"f":4.7},{"e":4,"s":"b","w":3610,"f":4.55},{"e":4,"s":"b","w":3659,"f":4.85},{"e":4,"s":"b","w":3708,"f":4.5},{"e":4,"s":"b","w":3757,"f":4.1},{"e":4,"s":"b","w":3790,"f":4.05},{"e":4,"s":"b","w":3822,"f":4.4},{"e":4,"s":"b","w":3871,"f":5.5},{"e":4,"s":"b","w":3904,"f":6.1},{"e":4,"s":"b","w":3937,"f":6.05},{"e":4,"s":"b","w":3969,"f":5.6},{"e":4,"s":"b","w":4018,"f":5.3},{"e":4,"s":"b","w":4084,"f":5.3},{"e":4,"s":"b","w":4133,"f":5.4},{"e":4,"s":"b","w":4182,"f":5.55},{"e":4,"s":"b","w":4247,"f":5.25},{"e":4,"s":"b","w":4312,"f":4.9},{"e":4,"s":"b","w":4394,"f":4.5},{"e":4,"s":"b","w":4459,"f":4.9},{"e":4,"s":"b","w":4508,"f":5.7},{"e":4,"s":"b","w":4557,"f":6.5},{"e":4,"s":"b","w":4596,"f":6.75},{"e":4,"s":"b","w":4639,"f":6.2},{"e":4,"s":"b","w":4688,"f":5.5},{"e":4,"s":"b","w":4737,"f":5.1},{"e":4,"s":"b","w":4786,"f":4.95},{"e":4,"s":"b","w":4818,"f":4.9},{"e":4,"s":"b","w":4867,"f":5},{"e":4,"s":"b","w":4923,"f":5.2},{"e":4,"s":"b","w":4965,"f":4.95},{"e":4,"s":"b","w":5014,"f":4.8},{"e":4,"s":"b","w":5079,"f":4.95},{"e":4,"s":"b","w":5145,"f":5.6},{"e":4,"s":"b","w":5194,"f":6.2},{"e":4,"s":"b","w":5243,"f":6.3},{"e":4,"s":"b","w":5308,"f":5.95},{"e":4,"s":"b","w":5390,"f":5.7},{"e":4,"s":"b","w":5471,"f":5.35},{"e":4,"s":"b","w":5553,"f":5.1},{"e":4,"s":"b","w":5634,"f":4.8},{"e":4,"s":"b","w":5716,"f":4.75},{"e":4,"s":"b","w":5798,"f":5.3},{"e":4,"s":"b","w":5863,"f":5.7},{"e":4,"s":"b","w":5912,"f":5.45},{"e":4,"s":"b","w":5964,"f":5.3},{"e":4,"s":"b","w":6007,"f":4.85},{"e":4,"s":"b","w":6073,"f":4.2},{"e":4,"s":"b","w":6138,"f":4},{"e":4,"s":"b","w":6187,"f":4.35},{"e":4,"s":"b","w":6252,"f":5},{"e":4,"s":"b","w":6334,"f":5.15},{"e":4,"s":"b","w":6448,"f":5.1},{"e":4,"s":"b","w":6530,"f":4.8},{"e":4,"s":"b","w":6628,"f":4.55},{"e":4,"s":"b","w":6758,"f":4.4},{"e":4,"s":"b","w":6922,"f":4.35},{"e":4,"s":"b","w":7117,"f":4.25},{"e":4,"s":"b","w":7313,"f":4.1},{"e":4,"s":"b","w":7477,"f":4},{"e":4,"s":"b","w":7640,"f":4.05},{"e":4,"s":"b","w":7836,"f":4.08},{"e":4,"s":"b","w":7966,"f":3.95},{"e":4,"s":"b","w":8097,"f":3.65},{"e":4,"s":"b","w":8228,"f":3.5},{"e":4,"s":"b","w":8358,"f":3.65},{"e":4,"s":"b","w":8456,"f":3.85},{"e":4,"s":"b","w":8554,"f":4.2},{"e":4,"s":"b","w":8600,"f":4.3},
{"e":5,"s":"b","w":3300,"f":0.1},{"e":5,"s":"b","w":3398,"f":0.22},{"e":5,"s":"b","w":3496,"f":0.38},{"e":5,"s":"b","w":3594,"f":0.6},{"e":5,"s":"b","w":3643,"f":0.95},{"e":5,"s":"b","w":3685,"f":1.4},{"e":5,"s":"b","w":3724,"f":0.95},{"e":5,"s":"b","w":3773,"f":0.65},{"e":5,"s":"b","w":3839,"f":1.3},{"e":5,"s":"b","w":3904,"f":2.2},{"e":5,"s":"b","w":3953,"f":2.6},{"e":5,"s":"b","w":4002,"f":2.3},{"e":5,"s":"b","w":4067,"f":2.05},{"e":5,"s":"b","w":4149,"f":2.15},{"e":5,"s":"b","w":4214,"f":2.2},{"e":5,"s":"b","w":4280,"f":2.15},{"e":5,"s":"b","w":4345,"f":1.9},{"e":5,"s":"b","w":4410,"f":1.6},{"e":5,"s":"b","w":4475,"f":1.9},{"e":5,"s":"b","w":4541,"f":2.8},{"e":5,"s":"b","w":4606,"f":3.6},{"e":5,"s":"b","w":4645,"f":2.9},{"e":5,"s":"b","w":4688,"f":2.25},{"e":5,"s":"b","w":4753,"f":2.25},{"e":5,"s":"b","w":4835,"f":2.15},{"e":5,"s":"b","w":4916,"f":2.65},{"e":5,"s":"b","w":4965,"f":2.3},{"e":5,"s":"b","w":5014,"f":2.1},{"e":5,"s":"b","w":5063,"f":2.05},{"e":5,"s":"b","w":5128,"f":2.15},{"e":5,"s":"b","w":5194,"f":2.9},{"e":5,"s":"b","w":5259,"f":3.25},{"e":5,"s":"b","w":5324,"f":3.2},{"e":5,"s":"b","w":5373,"f":3.15},{"e":5,"s":"b","w":5422,"f":3.25},{"e":5,"s":"b","w":5488,"f":3},{"e":5,"s":"b","w":5586,"f":2.5},{"e":5,"s":"b","w":5651,"f":2.15},{"e":5,"s":"b","w":5700,"f":1.95},{"e":5,"s":"b","w":5765,"f":2.3},{"e":5,"s":"b","w":5847,"f":3.1},{"e":5,"s":"b","w":5912,"f":2.9},{"e":5,"s":"b","w":5964,"f":2.7},{"e":5,"s":"b","w":6024,"f":2.35},{"e":5,"s":"b","w":6089,"f":1.9},{"e":5,"s":"b","w":6138,"f":1.7},{"e":5,"s":"b","w":6203,"f":2.15},{"e":5,"s":"b","w":6301,"f":2.7},{"e":5,"s":"b","w":6399,"f":2.8},{"e":5,"s":"b","w":6497,"f":2.65},{"e":5,"s":"b","w":6628,"f":2.05},{"e":5,"s":"b","w":6758,"f":1.8},{"e":5,"s":"b","w":6922,"f":1.75},{"e":5,"s":"b","w":7085,"f":1.7},{"e":5,"s":"b","w":7248,"f":1.75},{"e":5,"s":"b","w":7346,"f":1.75},{"e":5,"s":"b","w":7477,"f":1.6},{"e":5,"s":"b","w":7640,"f":1.6},{"e":5,"s":"b","w":7836,"f":1.55},{"e":5,"s":"b","w":8032,"f":1.3},{"e":5,"s":"b","w":8195,"f":1.15},{"e":5,"s":"b","w":8293,"f":1.2},{"e":5,"s":"b","w":8423,"f":1.5},{"e":5,"s":"b","w":8521,"f":1.9},{"e":5,"s":"b","w":8600,"f":2.1}
],
"specR": [
{"e":1,"s":"a","w":3300,"f":10.2},{"e":1,"s":"a","w":3365,"f":10.8},{"e":1,"s":"a","w":3431,"f":11.4},{"e":1,"s":"a","w":3496,"f":12.2},{"e":1,"s":"a","w":3545,"f":13.4},{"e":1,"s":"a","w":3594,"f":14.3},{"e":1,"s":"a","w":3627,"f":13.6},{"e":1,"s":"a","w":3659,"f":12.2},{"e":1,"s":"a","w":3692,"f":11.1},{"e":1,"s":"a","w":3718,"f":10.8},{"e":1,"s":"a","w":3757,"f":11.7},{"e":1,"s":"a","w":3790,"f":12.1},{"e":1,"s":"a","w":3822,"f":12.5},{"e":1,"s":"a","w":3855,"f":14.2},{"e":1,"s":"a","w":3888,"f":15},{"e":1,"s":"a","w":3911,"f":15.1},{"e":1,"s":"a","w":3937,"f":15.2},{"e":1,"s":"a","w":3969,"f":14.2},{"e":1,"s":"a","w":3992,"f":13.8},{"e":1,"s":"a","w":4025,"f":14.7},{"e":1,"s":"a","w":4057,"f":15.45},{"e":1,"s":"a","w":4090,"f":14.9},{"e":1,"s":"a","w":4133,"f":14.4},{"e":1,"s":"a","w":4175,"f":14.2},{"e":1,"s":"a","w":4198,"f":14.35},{"e":1,"s":"a","w":4231,"f":13.7},{"e":1,"s":"a","w":4280,"f":12.6},{"e":1,"s":"a","w":4306,"f":12.4},{"e":1,"s":"a","w":4345,"f":12.7},{"e":1,"s":"a","w":4394,"f":13.2},{"e":1,"s":"a","w":4443,"f":13.7},{"e":1,"s":"a","w":4492,"f":14.05},{"e":1,"s":"a","w":4524,"f":14.2},{"e":1,"s":"a","w":4573,"f":14.05},{"e":1,"s":"a","w":4622,"f":13.9},{"e":1,"s":"a","w":4671,"f":12.8},{"e":1,"s":"a","w":4720,"f":12.5},{"e":1,"s":"a","w":4769,"f":12.3},{"e":1,"s":"a","w":4802,"f":12.6},{"e":1,"s":"a","w":4835,"f":12},{"e":1,"s":"a","w":4861,"f":11.3},{"e":1,"s":"a","w":4906,"f":12.5},{"e":1,"s":"a","w":4933,"f":12},{"e":1,"s":"a","w":4981,"f":11.8},{"e":1,"s":"a","w":5030,"f":12.5},{"e":1,"s":"a","w":5096,"f":13.3},{"e":1,"s":"a","w":5145,"f":13.4},{"e":1,"s":"a","w":5194,"f":13.4},{"e":1,"s":"a","w":5243,"f":12.7},{"e":1,"s":"a","w":5275,"f":12},{"e":1,"s":"a","w":5324,"f":12.2},{"e":1,"s":"a","w":5363,"f":12.3},{"e":1,"s":"a","w":5406,"f":11.9},{"e":1,"s":"a","w":5455,"f":11.45},{"e":1,"s":"a","w":5504,"f":12.2},{"e":1,"s":"a","w":5553,"f":12.8},{"e":1,"s":"a","w":5602,"f":13},{"e":1,"s":"a","w":5651,"f":12.85},{"e":1,"s":"a","w":5716,"f":12.5},{"e":1,"s":"a","w":5765,"f":12.2},{"e":1,"s":"a","w":5814,"f":12.5},{"e":1,"s":"a","w":5879,"f":12.7},{"e":1,"s":"a","w":5964,"f":12.45},{"e":1,"s":"a","w":5991,"f":12.3},{"e":1,"s":"a","w":6040,"f":11.4},{"e":1,"s":"a","w":6089,"f":10.5},{"e":1,"s":"a","w":6122,"f":10.2},{"e":1,"s":"a","w":6171,"f":10.9},{"e":1,"s":"a","w":6236,"f":11.7},{"e":1,"s":"a","w":6301,"f":12},{"e":1,"s":"a","w":6399,"f":11.8},{"e":1,"s":"a","w":6530,"f":11.5},{"e":1,"s":"a","w":6660,"f":11.15},{"e":1,"s":"a","w":6791,"f":10.9},{"e":1,"s":"a","w":6922,"f":10.75},{"e":1,"s":"a","w":7052,"f":10.6},{"e":1,"s":"a","w":7183,"f":10.5},{"e":1,"s":"a","w":7313,"f":10.25},{"e":1,"s":"a","w":7444,"f":9.9},{"e":1,"s":"a","w":7509,"f":9.75},{"e":1,"s":"a","w":7575,"f":10},{"e":1,"s":"a","w":7672,"f":10.1},{"e":1,"s":"a","w":7803,"f":10.2},{"e":1,"s":"a","w":7901,"f":10.05},{"e":1,"s":"a","w":7999,"f":9.8},{"e":1,"s":"a","w":8097,"f":9.8},{"e":1,"s":"a","w":8195,"f":9.7},{"e":1,"s":"a","w":8293,"f":9.8},{"e":1,"s":"a","w":8391,"f":10.1},{"e":1,"s":"a","w":8505,"f":10.35},{"e":1,"s":"a","w":8600,"f":10.25},
{"e":2,"s":"a","w":3300,"f":7.9},{"e":2,"s":"a","w":3365,"f":8.1},{"e":2,"s":"a","w":3431,"f":8.5},{"e":2,"s":"a","w":3496,"f":9.3},{"e":2,"s":"a","w":3561,"f":10.1},{"e":2,"s":"a","w":3587,"f":10.25},{"e":2,"s":"a","w":3643,"f":9.7},{"e":2,"s":"a","w":3676,"f":8.8},{"e":2,"s":"a","w":3718,"f":8.4},{"e":2,"s":"a","w":3773,"f":8.8},{"e":2,"s":"a","w":3822,"f":9.7},{"e":2,"s":"a","w":3871,"f":11.3},{"e":2,"s":"a","w":3914,"f":12.25},{"e":2,"s":"a","w":3937,"f":12.4},{"e":2,"s":"a","w":3969,"f":11.1},{"e":2,"s":"a","w":3992,"f":10.3},{"e":2,"s":"a","w":4025,"f":10.9},{"e":2,"s":"a","w":4057,"f":11.3},{"e":2,"s":"a","w":4100,"f":11.1},{"e":2,"s":"a","w":4165,"f":11.4},{"e":2,"s":"a","w":4214,"f":10.9},{"e":2,"s":"a","w":4280,"f":10.3},{"e":2,"s":"a","w":4345,"f":9.7},{"e":2,"s":"a","w":4404,"f":9.5},{"e":2,"s":"a","w":4459,"f":10.2},{"e":2,"s":"a","w":4508,"f":11.3},{"e":2,"s":"a","w":4557,"f":12.05},{"e":2,"s":"a","w":4599,"f":12.2},{"e":2,"s":"a","w":4639,"f":11.5},{"e":2,"s":"a","w":4688,"f":10.6},{"e":2,"s":"a","w":4737,"f":9.9},{"e":2,"s":"a","w":4786,"f":10.2},{"e":2,"s":"a","w":4818,"f":9.8},{"e":2,"s":"a","w":4861,"f":10.3},{"e":2,"s":"a","w":4906,"f":10.45},{"e":2,"s":"a","w":4949,"f":9.7},{"e":2,"s":"a","w":4998,"f":9.3},{"e":2,"s":"a","w":5047,"f":9.8},{"e":2,"s":"a","w":5112,"f":10.3},{"e":2,"s":"a","w":5177,"f":11.3},{"e":2,"s":"a","w":5210,"f":11.4},{"e":2,"s":"a","w":5259,"f":10.9},{"e":2,"s":"a","w":5308,"f":10.5},{"e":2,"s":"a","w":5357,"f":10.4},{"e":2,"s":"a","w":5422,"f":10.1},{"e":2,"s":"a","w":5488,"f":10.1},{"e":2,"s":"a","w":5553,"f":9.9},{"e":2,"s":"a","w":5602,"f":9.9},{"e":2,"s":"a","w":5651,"f":9.7},{"e":2,"s":"a","w":5716,"f":9.6},{"e":2,"s":"a","w":5781,"f":10.1},{"e":2,"s":"a","w":5847,"f":10.55},{"e":2,"s":"a","w":5912,"f":10.3},{"e":2,"s":"a","w":5964,"f":10},{"e":2,"s":"a","w":6007,"f":9.5},{"e":2,"s":"a","w":6073,"f":8.5},{"e":2,"s":"a","w":6122,"f":8.1},{"e":2,"s":"a","w":6187,"f":8.9},{"e":2,"s":"a","w":6252,"f":9.4},{"e":2,"s":"a","w":6301,"f":9.5},{"e":2,"s":"a","w":6399,"f":9.35},{"e":2,"s":"a","w":6497,"f":9.1},{"e":2,"s":"a","w":6595,"f":8.8},{"e":2,"s":"a","w":6726,"f":8.4},{"e":2,"s":"a","w":6856,"f":8.2},{"e":2,"s":"a","w":6987,"f":8.1},{"e":2,"s":"a","w":7183,"f":8},{"e":2,"s":"a","w":7346,"f":7.8},{"e":2,"s":"a","w":7477,"f":7.6},{"e":2,"s":"a","w":7607,"f":7.7},{"e":2,"s":"a","w":7738,"f":7.8},{"e":2,"s":"a","w":7868,"f":7.7},{"e":2,"s":"a","w":8032,"f":7.6},{"e":2,"s":"a","w":8195,"f":7.35},{"e":2,"s":"a","w":8293,"f":7.6},{"e":2,"s":"a","w":8391,"f":8},{"e":2,"s":"a","w":8489,"f":8.2},{"e":2,"s":"a","w":8600,"f":8.15},
{"e":3,"s":"a","w":3300,"f":5.7},{"e":3,"s":"a","w":3398,"f":6},{"e":3,"s":"a","w":3496,"f":6.7},{"e":3,"s":"a","w":3578,"f":7.2},{"e":3,"s":"a","w":3610,"f":6.9},{"e":3,"s":"a","w":3653,"f":7.2},{"e":3,"s":"a","w":3692,"f":6.6},{"e":3,"s":"a","w":3724,"f":6.2},{"e":3,"s":"a","w":3773,"f":6.3},{"e":3,"s":"a","w":3822,"f":7},{"e":3,"s":"a","w":3871,"f":8.3},{"e":3,"s":"a","w":3914,"f":9},{"e":3,"s":"a","w":3940,"f":9.25},{"e":3,"s":"a","w":3969,"f":8.7},{"e":3,"s":"a","w":4002,"f":8},{"e":3,"s":"a","w":4051,"f":8.2},{"e":3,"s":"a","w":4100,"f":7.9},{"e":3,"s":"a","w":4165,"f":8.4},{"e":3,"s":"a","w":4214,"f":8},{"e":3,"s":"a","w":4280,"f":8},{"e":3,"s":"a","w":4328,"f":7.4},{"e":3,"s":"a","w":4377,"f":6.9},{"e":3,"s":"a","w":4410,"f":6.7},{"e":3,"s":"a","w":4459,"f":7.4},{"e":3,"s":"a","w":4508,"f":8.1},{"e":3,"s":"a","w":4557,"f":8.8},{"e":3,"s":"a","w":4606,"f":9.4},{"e":3,"s":"a","w":4645,"f":8.9},{"e":3,"s":"a","w":4688,"f":7.9},{"e":3,"s":"a","w":4737,"f":7.2},{"e":3,"s":"a","w":4786,"f":7.5},{"e":3,"s":"a","w":4818,"f":7},{"e":3,"s":"a","w":4861,"f":7.5},{"e":3,"s":"a","w":4906,"f":8.1},{"e":3,"s":"a","w":4949,"f":7.4},{"e":3,"s":"a","w":4998,"f":7},{"e":3,"s":"a","w":5063,"f":7.4},{"e":3,"s":"a","w":5128,"f":8},{"e":3,"s":"a","w":5187,"f":8.9},{"e":3,"s":"a","w":5226,"f":8.95},{"e":3,"s":"a","w":5275,"f":8.6},{"e":3,"s":"a","w":5341,"f":8.2},{"e":3,"s":"a","w":5422,"f":7.9},{"e":3,"s":"a","w":5520,"f":7.4},{"e":3,"s":"a","w":5586,"f":7.1},{"e":3,"s":"a","w":5683,"f":6.95},{"e":3,"s":"a","w":5765,"f":7.7},{"e":3,"s":"a","w":5847,"f":8.2},{"e":3,"s":"a","w":5912,"f":7.9},{"e":3,"s":"a","w":5964,"f":7.6},{"e":3,"s":"a","w":6007,"f":7.2},{"e":3,"s":"a","w":6073,"f":6.3},{"e":3,"s":"a","w":6128,"f":6},{"e":3,"s":"a","w":6187,"f":6.6},{"e":3,"s":"a","w":6269,"f":7.05},{"e":3,"s":"a","w":6350,"f":7.2},{"e":3,"s":"a","w":6432,"f":7.05},{"e":3,"s":"a","w":6530,"f":6.7},{"e":3,"s":"a","w":6660,"f":6.3},{"e":3,"s":"a","w":6791,"f":6.1},{"e":3,"s":"a","w":6922,"f":6},{"e":3,"s":"a","w":7085,"f":5.9},{"e":3,"s":"a","w":7248,"f":5.7},{"e":3,"s":"a","w":7379,"f":5.6},{"e":3,"s":"a","w":7509,"f":5.5},{"e":3,"s":"a","w":7640,"f":5.6},{"e":3,"s":"a","w":7770,"f":5.7},{"e":3,"s":"a","w":7901,"f":5.7},{"e":3,"s":"a","w":8032,"f":5.55},{"e":3,"s":"a","w":8195,"f":5.3},{"e":3,"s":"a","w":8293,"f":5.6},{"e":3,"s":"a","w":8391,"f":5.9},{"e":3,"s":"a","w":8489,"f":6.1},{"e":3,"s":"a","w":8600,"f":6.3},
{"e":4,"s":"a","w":3300,"f":3.7},{"e":4,"s":"a","w":3398,"f":3.9},{"e":4,"s":"a","w":3496,"f":4.3},{"e":4,"s":"a","w":3578,"f":4.7},{"e":4,"s":"a","w":3610,"f":4.55},{"e":4,"s":"a","w":3659,"f":4.85},{"e":4,"s":"a","w":3708,"f":4.35},{"e":4,"s":"a","w":3757,"f":4.1},{"e":4,"s":"a","w":3822,"f":4.6},{"e":4,"s":"a","w":3871,"f":5.4},{"e":4,"s":"a","w":3920,"f":6.4},{"e":4,"s":"a","w":3946,"f":6.55},{"e":4,"s":"a","w":3986,"f":5.9},{"e":4,"s":"a","w":4035,"f":5.6},{"e":4,"s":"a","w":4084,"f":5.5},{"e":4,"s":"a","w":4133,"f":5.8},{"e":4,"s":"a","w":4175,"f":5.75},{"e":4,"s":"a","w":4231,"f":5.5},{"e":4,"s":"a","w":4296,"f":5.4},{"e":4,"s":"a","w":4345,"f":4.9},{"e":4,"s":"a","w":4404,"f":4.4},{"e":4,"s":"a","w":4459,"f":4.9},{"e":4,"s":"a","w":4524,"f":5.9},{"e":4,"s":"a","w":4573,"f":6.7},{"e":4,"s":"a","w":4606,"f":6.95},{"e":4,"s":"a","w":4645,"f":6.3},{"e":4,"s":"a","w":4688,"f":5.5},{"e":4,"s":"a","w":4737,"f":4.9},{"e":4,"s":"a","w":4786,"f":5},{"e":4,"s":"a","w":4818,"f":4.8},{"e":4,"s":"a","w":4861,"f":5.1},{"e":4,"s":"a","w":4906,"f":5.6},{"e":4,"s":"a","w":4949,"f":5},{"e":4,"s":"a","w":4998,"f":4.7},{"e":4,"s":"a","w":5063,"f":4.95},{"e":4,"s":"a","w":5128,"f":5.5},{"e":4,"s":"a","w":5187,"f":6.1},{"e":4,"s":"a","w":5233,"f":6.3},{"e":4,"s":"a","w":5292,"f":6.2},{"e":4,"s":"a","w":5357,"f":5.95},{"e":4,"s":"a","w":5422,"f":5.8},{"e":4,"s":"a","w":5488,"f":5.6},{"e":4,"s":"a","w":5586,"f":4.95},{"e":4,"s":"a","w":5700,"f":4.6},{"e":4,"s":"a","w":5781,"f":5.3},{"e":4,"s":"a","w":5863,"f":5.95},{"e":4,"s":"a","w":5912,"f":5.7},{"e":4,"s":"a","w":5964,"f":5.5},{"e":4,"s":"a","w":6007,"f":5.2},{"e":4,"s":"a","w":6073,"f":4.4},{"e":4,"s":"a","w":6131,"f":4.15},{"e":4,"s":"a","w":6187,"f":4.6},{"e":4,"s":"a","w":6269,"f":5},{"e":4,"s":"a","w":6366,"f":5.05},{"e":4,"s":"a","w":6464,"f":5},{"e":4,"s":"a","w":6595,"f":4.5},{"e":4,"s":"a","w":6726,"f":4.2},{"e":4,"s":"a","w":6856,"f":4.05},{"e":4,"s":"a","w":7019,"f":3.95},{"e":4,"s":"a","w":7183,"f":3.9},{"e":4,"s":"a","w":7346,"f":3.75},{"e":4,"s":"a","w":7509,"f":3.65},{"e":4,"s":"a","w":7672,"f":3.8},{"e":4,"s":"a","w":7836,"f":3.7},{"e":4,"s":"a","w":7999,"f":3.5},{"e":4,"s":"a","w":8195,"f":3.35},{"e":4,"s":"a","w":8325,"f":3.6},{"e":4,"s":"a","w":8456,"f":3.9},{"e":4,"s":"a","w":8600,"f":4.2},
{"e":5,"s":"a","w":3300,"f":1.1},{"e":5,"s":"a","w":3398,"f":1.3},{"e":5,"s":"a","w":3496,"f":1.5},{"e":5,"s":"a","w":3594,"f":1.9},{"e":5,"s":"a","w":3659,"f":1.6},{"e":5,"s":"a","w":3724,"f":1.35},{"e":5,"s":"a","w":3790,"f":1.5},{"e":5,"s":"a","w":3855,"f":2},{"e":5,"s":"a","w":3904,"f":2.4},{"e":5,"s":"a","w":3943,"f":2.75},{"e":5,"s":"a","w":3986,"f":2.3},{"e":5,"s":"a","w":4035,"f":2.1},{"e":5,"s":"a","w":4084,"f":2},{"e":5,"s":"a","w":4149,"f":2.05},{"e":5,"s":"a","w":4214,"f":2.1},{"e":5,"s":"a","w":4280,"f":2.2},{"e":5,"s":"a","w":4312,"f":2.4},{"e":5,"s":"a","w":4361,"f":1.9},{"e":5,"s":"a","w":4426,"f":1.9},{"e":5,"s":"a","w":4492,"f":2.4},{"e":5,"s":"a","w":4541,"f":3.1},{"e":5,"s":"a","w":4583,"f":3.8},{"e":5,"s":"a","w":4616,"f":3.85},{"e":5,"s":"a","w":4655,"f":2.9},{"e":5,"s":"a","w":4704,"f":2.2},{"e":5,"s":"a","w":4753,"f":2.1},{"e":5,"s":"a","w":4802,"f":2.4},{"e":5,"s":"a","w":4867,"f":2.6},{"e":5,"s":"a","w":4923,"f":2.9},{"e":5,"s":"a","w":4965,"f":2.4},{"e":5,"s":"a","w":5014,"f":2.05},{"e":5,"s":"a","w":5079,"f":2},{"e":5,"s":"a","w":5145,"f":2.5},{"e":5,"s":"a","w":5210,"f":3.1},{"e":5,"s":"a","w":5259,"f":3.4},{"e":5,"s":"a","w":5308,"f":3.05},{"e":5,"s":"a","w":5357,"f":3.25},{"e":5,"s":"a","w":5422,"f":3.5},{"e":5,"s":"a","w":5488,"f":3.3},{"e":5,"s":"a","w":5586,"f":2.7},{"e":5,"s":"a","w":5700,"f":2.25},{"e":5,"s":"a","w":5781,"f":2.75},{"e":5,"s":"a","w":5863,"f":3.35},{"e":5,"s":"a","w":5912,"f":3.1},{"e":5,"s":"a","w":5964,"f":2.75},{"e":5,"s":"a","w":6007,"f":2.5},{"e":5,"s":"a","w":6089,"f":2.1},{"e":5,"s":"a","w":6131,"f":2},{"e":5,"s":"a","w":6187,"f":2.4},{"e":5,"s":"a","w":6269,"f":2.6},{"e":5,"s":"a","w":6366,"f":2.9},{"e":5,"s":"a","w":6464,"f":3},{"e":5,"s":"a","w":6546,"f":2.8},{"e":5,"s":"a","w":6628,"f":2.3},{"e":5,"s":"a","w":6758,"f":2},{"e":5,"s":"a","w":6922,"f":1.95},{"e":5,"s":"a","w":7085,"f":2.05},{"e":5,"s":"a","w":7248,"f":2.1},{"e":5,"s":"a","w":7379,"f":2.15},{"e":5,"s":"a","w":7509,"f":1.95},{"e":5,"s":"a","w":7640,"f":2.1},{"e":5,"s":"a","w":7770,"f":1.9},{"e":5,"s":"a","w":7901,"f":1.8},{"e":5,"s":"a","w":8032,"f":1.65},{"e":5,"s":"a","w":8195,"f":1.35},{"e":5,"s":"a","w":8293,"f":1.5},{"e":5,"s":"a","w":8423,"f":1.9},{"e":5,"s":"a","w":8521,"f":2.25},{"e":5,"s":"a","w":8600,"f":2.5},
{"e":1,"s":"b","w":3300,"f":11.3},{"e":1,"s":"b","w":3365,"f":11.9},{"e":1,"s":"b","w":3431,"f":12.3},{"e":1,"s":"b","w":3496,"f":12.8},{"e":1,"s":"b","w":3545,"f":13.5},{"e":1,"s":"b","w":3594,"f":13.7},{"e":1,"s":"b","w":3627,"f":13.95},{"e":1,"s":"b","w":3659,"f":13.2},{"e":1,"s":"b","w":3692,"f":11.9},{"e":1,"s":"b","w":3718,"f":11.4},{"e":1,"s":"b","w":3757,"f":11.25},{"e":1,"s":"b","w":3790,"f":11.7},{"e":1,"s":"b","w":3822,"f":12.9},{"e":1,"s":"b","w":3855,"f":14.7},{"e":1,"s":"b","w":3888,"f":15.6},{"e":1,"s":"b","w":3911,"f":15.9},{"e":1,"s":"b","w":3937,"f":15.5},{"e":1,"s":"b","w":3969,"f":14.1},{"e":1,"s":"b","w":3992,"f":13.8},{"e":1,"s":"b","w":4025,"f":15},{"e":1,"s":"b","w":4057,"f":15.95},{"e":1,"s":"b","w":4090,"f":15.9},{"e":1,"s":"b","w":4133,"f":15.6},{"e":1,"s":"b","w":4175,"f":15.4},{"e":1,"s":"b","w":4198,"f":15.3},{"e":1,"s":"b","w":4231,"f":14.7},{"e":1,"s":"b","w":4280,"f":12.8},{"e":1,"s":"b","w":4306,"f":12.45},{"e":1,"s":"b","w":4345,"f":12.9},{"e":1,"s":"b","w":4394,"f":13.5},{"e":1,"s":"b","w":4443,"f":14.1},{"e":1,"s":"b","w":4492,"f":14.8},{"e":1,"s":"b","w":4524,"f":14.95},{"e":1,"s":"b","w":4573,"f":14.7},{"e":1,"s":"b","w":4622,"f":14.3},{"e":1,"s":"b","w":4671,"f":13.3},{"e":1,"s":"b","w":4720,"f":12.9},{"e":1,"s":"b","w":4769,"f":12.6},{"e":1,"s":"b","w":4802,"f":12.4},{"e":1,"s":"b","w":4835,"f":12.1},{"e":1,"s":"b","w":4861,"f":11.7},{"e":1,"s":"b","w":4906,"f":12.3},{"e":1,"s":"b","w":4933,"f":12.4},{"e":1,"s":"b","w":4981,"f":12.4},{"e":1,"s":"b","w":5030,"f":12.7},{"e":1,"s":"b","w":5096,"f":13.4},{"e":1,"s":"b","w":5145,"f":13.45},{"e":1,"s":"b","w":5194,"f":13.4},{"e":1,"s":"b","w":5243,"f":12.7},{"e":1,"s":"b","w":5275,"f":12},{"e":1,"s":"b","w":5324,"f":12.2},{"e":1,"s":"b","w":5363,"f":12.3},{"e":1,"s":"b","w":5406,"f":11.9},{"e":1,"s":"b","w":5455,"f":11.5},{"e":1,"s":"b","w":5504,"f":12.2},{"e":1,"s":"b","w":5553,"f":12.8},{"e":1,"s":"b","w":5602,"f":13},{"e":1,"s":"b","w":5651,"f":12.9},{"e":1,"s":"b","w":5716,"f":12.4},{"e":1,"s":"b","w":5765,"f":12.05},{"e":1,"s":"b","w":5814,"f":12.4},{"e":1,"s":"b","w":5879,"f":12.65},{"e":1,"s":"b","w":5964,"f":12.75},{"e":1,"s":"b","w":5991,"f":12.5},{"e":1,"s":"b","w":6040,"f":11.5},{"e":1,"s":"b","w":6089,"f":10.5},{"e":1,"s":"b","w":6122,"f":10.1},{"e":1,"s":"b","w":6171,"f":11.1},{"e":1,"s":"b","w":6236,"f":12.1},{"e":1,"s":"b","w":6301,"f":12.45},{"e":1,"s":"b","w":6399,"f":12.3},{"e":1,"s":"b","w":6530,"f":11.9},{"e":1,"s":"b","w":6660,"f":11.4},{"e":1,"s":"b","w":6791,"f":11.05},{"e":1,"s":"b","w":6922,"f":10.8},{"e":1,"s":"b","w":7052,"f":10.6},{"e":1,"s":"b","w":7183,"f":10.45},{"e":1,"s":"b","w":7313,"f":10.2},{"e":1,"s":"b","w":7444,"f":9.9},{"e":1,"s":"b","w":7509,"f":9.65},{"e":1,"s":"b","w":7575,"f":9.9},{"e":1,"s":"b","w":7672,"f":10.2},{"e":1,"s":"b","w":7803,"f":10.3},{"e":1,"s":"b","w":7901,"f":10.35},{"e":1,"s":"b","w":7999,"f":10.3},{"e":1,"s":"b","w":8097,"f":9.8},{"e":1,"s":"b","w":8195,"f":9.6},{"e":1,"s":"b","w":8293,"f":9.8},{"e":1,"s":"b","w":8391,"f":10.05},{"e":1,"s":"b","w":8505,"f":10.4},{"e":1,"s":"b","w":8600,"f":10.3},
{"e":2,"s":"b","w":3300,"f":7.9},{"e":2,"s":"b","w":3365,"f":8.1},{"e":2,"s":"b","w":3431,"f":8.4},{"e":2,"s":"b","w":3496,"f":9},{"e":2,"s":"b","w":3561,"f":9.3},{"e":2,"s":"b","w":3587,"f":9.15},{"e":2,"s":"b","w":3643,"f":9.1},{"e":2,"s":"b","w":3676,"f":8.8},{"e":2,"s":"b","w":3718,"f":8.6},{"e":2,"s":"b","w":3773,"f":8.5},{"e":2,"s":"b","w":3822,"f":9.2},{"e":2,"s":"b","w":3871,"f":10.7},{"e":2,"s":"b","w":3914,"f":11.6},{"e":2,"s":"b","w":3937,"f":11.55},{"e":2,"s":"b","w":3969,"f":10.5},{"e":2,"s":"b","w":3992,"f":10.1},{"e":2,"s":"b","w":4025,"f":10.8},{"e":2,"s":"b","w":4057,"f":10.85},{"e":2,"s":"b","w":4100,"f":10.9},{"e":2,"s":"b","w":4165,"f":11.15},{"e":2,"s":"b","w":4214,"f":10.7},{"e":2,"s":"b","w":4280,"f":10.3},{"e":2,"s":"b","w":4345,"f":9.7},{"e":2,"s":"b","w":4404,"f":9.5},{"e":2,"s":"b","w":4459,"f":10.1},{"e":2,"s":"b","w":4508,"f":11},{"e":2,"s":"b","w":4557,"f":11.7},{"e":2,"s":"b","w":4599,"f":11.75},{"e":2,"s":"b","w":4639,"f":11.4},{"e":2,"s":"b","w":4688,"f":10.5},{"e":2,"s":"b","w":4737,"f":9.9},{"e":2,"s":"b","w":4786,"f":10.1},{"e":2,"s":"b","w":4818,"f":9.8},{"e":2,"s":"b","w":4861,"f":10.2},{"e":2,"s":"b","w":4906,"f":10.3},{"e":2,"s":"b","w":4949,"f":9.7},{"e":2,"s":"b","w":4998,"f":9.4},{"e":2,"s":"b","w":5047,"f":9.75},{"e":2,"s":"b","w":5112,"f":10.1},{"e":2,"s":"b","w":5177,"f":10.9},{"e":2,"s":"b","w":5210,"f":10.95},{"e":2,"s":"b","w":5259,"f":10.4},{"e":2,"s":"b","w":5308,"f":10},{"e":2,"s":"b","w":5357,"f":10},{"e":2,"s":"b","w":5422,"f":10.1},{"e":2,"s":"b","w":5488,"f":10.2},{"e":2,"s":"b","w":5553,"f":9.95},{"e":2,"s":"b","w":5602,"f":10},{"e":2,"s":"b","w":5651,"f":9.7},{"e":2,"s":"b","w":5716,"f":9.4},{"e":2,"s":"b","w":5781,"f":9.9},{"e":2,"s":"b","w":5847,"f":10.25},{"e":2,"s":"b","w":5912,"f":10.15},{"e":2,"s":"b","w":5964,"f":10},{"e":2,"s":"b","w":6007,"f":9.5},{"e":2,"s":"b","w":6073,"f":8.4},{"e":2,"s":"b","w":6122,"f":7.95},{"e":2,"s":"b","w":6187,"f":8.8},{"e":2,"s":"b","w":6252,"f":9.4},{"e":2,"s":"b","w":6301,"f":9.6},{"e":2,"s":"b","w":6399,"f":9.55},{"e":2,"s":"b","w":6497,"f":9.2},{"e":2,"s":"b","w":6595,"f":8.75},{"e":2,"s":"b","w":6726,"f":8.4},{"e":2,"s":"b","w":6856,"f":8.2},{"e":2,"s":"b","w":6987,"f":8.1},{"e":2,"s":"b","w":7183,"f":8},{"e":2,"s":"b","w":7346,"f":7.75},{"e":2,"s":"b","w":7477,"f":7.5},{"e":2,"s":"b","w":7607,"f":7.75},{"e":2,"s":"b","w":7738,"f":7.9},{"e":2,"s":"b","w":7868,"f":7.8},{"e":2,"s":"b","w":8032,"f":7.55},{"e":2,"s":"b","w":8195,"f":7.3},{"e":2,"s":"b","w":8293,"f":7.5},{"e":2,"s":"b","w":8391,"f":7.8},{"e":2,"s":"b","w":8489,"f":8.1},{"e":2,"s":"b","w":8600,"f":8.15},
{"e":3,"s":"b","w":3300,"f":5.65},{"e":3,"s":"b","w":3398,"f":5.9},{"e":3,"s":"b","w":3496,"f":6.6},{"e":3,"s":"b","w":3578,"f":6.85},{"e":3,"s":"b","w":3610,"f":7},{"e":3,"s":"b","w":3653,"f":7.2},{"e":3,"s":"b","w":3692,"f":6.6},{"e":3,"s":"b","w":3724,"f":6.3},{"e":3,"s":"b","w":3773,"f":6.15},{"e":3,"s":"b","w":3822,"f":6.8},{"e":3,"s":"b","w":3871,"f":7.7},{"e":3,"s":"b","w":3914,"f":8.3},{"e":3,"s":"b","w":3940,"f":8.4},{"e":3,"s":"b","w":3969,"f":8},{"e":3,"s":"b","w":4002,"f":7.35},{"e":3,"s":"b","w":4051,"f":7.5},{"e":3,"s":"b","w":4100,"f":7.65},{"e":3,"s":"b","w":4165,"f":8},{"e":3,"s":"b","w":4214,"f":7.8},{"e":3,"s":"b","w":4280,"f":7.7},{"e":3,"s":"b","w":4328,"f":7.2},{"e":3,"s":"b","w":4377,"f":6.85},{"e":3,"s":"b","w":4410,"f":6.65},{"e":3,"s":"b","w":4459,"f":7.1},{"e":3,"s":"b","w":4508,"f":7.8},{"e":3,"s":"b","w":4557,"f":8.5},{"e":3,"s":"b","w":4606,"f":8.85},{"e":3,"s":"b","w":4645,"f":8.7},{"e":3,"s":"b","w":4688,"f":7.8},{"e":3,"s":"b","w":4737,"f":7.15},{"e":3,"s":"b","w":4786,"f":7.4},{"e":3,"s":"b","w":4818,"f":7.1},{"e":3,"s":"b","w":4861,"f":7.45},{"e":3,"s":"b","w":4906,"f":7.9},{"e":3,"s":"b","w":4949,"f":7.4},{"e":3,"s":"b","w":4998,"f":7.05},{"e":3,"s":"b","w":5063,"f":7.3},{"e":3,"s":"b","w":5128,"f":7.7},{"e":3,"s":"b","w":5187,"f":8.4},{"e":3,"s":"b","w":5226,"f":8.45},{"e":3,"s":"b","w":5275,"f":8},{"e":3,"s":"b","w":5341,"f":7.8},{"e":3,"s":"b","w":5422,"f":7.75},{"e":3,"s":"b","w":5520,"f":7.35},{"e":3,"s":"b","w":5586,"f":6.95},{"e":3,"s":"b","w":5683,"f":6.7},{"e":3,"s":"b","w":5765,"f":7.25},{"e":3,"s":"b","w":5847,"f":7.6},{"e":3,"s":"b","w":5912,"f":7.4},{"e":3,"s":"b","w":5964,"f":7.3},{"e":3,"s":"b","w":6007,"f":6.9},{"e":3,"s":"b","w":6073,"f":6.1},{"e":3,"s":"b","w":6128,"f":5.75},{"e":3,"s":"b","w":6187,"f":6.3},{"e":3,"s":"b","w":6269,"f":6.9},{"e":3,"s":"b","w":6350,"f":7.1},{"e":3,"s":"b","w":6432,"f":7.05},{"e":3,"s":"b","w":6530,"f":6.7},{"e":3,"s":"b","w":6660,"f":6.2},{"e":3,"s":"b","w":6791,"f":6},{"e":3,"s":"b","w":6922,"f":5.9},{"e":3,"s":"b","w":7085,"f":5.8},{"e":3,"s":"b","w":7248,"f":5.65},{"e":3,"s":"b","w":7379,"f":5.5},{"e":3,"s":"b","w":7509,"f":5.45},{"e":3,"s":"b","w":7640,"f":5.65},{"e":3,"s":"b","w":7770,"f":5.75},{"e":3,"s":"b","w":7901,"f":5.8},{"e":3,"s":"b","w":8032,"f":5.6},{"e":3,"s":"b","w":8195,"f":5.3},{"e":3,"s":"b","w":8293,"f":5.45},{"e":3,"s":"b","w":8391,"f":5.8},{"e":3,"s":"b","w":8489,"f":6.1},{"e":3,"s":"b","w":8600,"f":6.3},
{"e":4,"s":"b","w":3300,"f":3.65},{"e":4,"s":"b","w":3398,"f":3.8},{"e":4,"s":"b","w":3496,"f":4.2},{"e":4,"s":"b","w":3578,"f":4.6},{"e":4,"s":"b","w":3610,"f":4.5},{"e":4,"s":"b","w":3659,"f":4.7},{"e":4,"s":"b","w":3708,"f":4.4},{"e":4,"s":"b","w":3757,"f":4},{"e":4,"s":"b","w":3822,"f":4.5},{"e":4,"s":"b","w":3871,"f":5.2},{"e":4,"s":"b","w":3920,"f":5.8},{"e":4,"s":"b","w":3946,"f":5.9},{"e":4,"s":"b","w":3986,"f":5.4},{"e":4,"s":"b","w":4035,"f":5.1},{"e":4,"s":"b","w":4084,"f":5.2},{"e":4,"s":"b","w":4133,"f":5.3},{"e":4,"s":"b","w":4175,"f":5.3},{"e":4,"s":"b","w":4231,"f":5.2},{"e":4,"s":"b","w":4296,"f":5.1},{"e":4,"s":"b","w":4345,"f":4.7},{"e":4,"s":"b","w":4404,"f":4.3},{"e":4,"s":"b","w":4459,"f":4.7},{"e":4,"s":"b","w":4524,"f":5.5},{"e":4,"s":"b","w":4573,"f":6.3},{"e":4,"s":"b","w":4606,"f":6.5},{"e":4,"s":"b","w":4645,"f":6},{"e":4,"s":"b","w":4688,"f":5.3},{"e":4,"s":"b","w":4737,"f":4.9},{"e":4,"s":"b","w":4786,"f":4.95},{"e":4,"s":"b","w":4818,"f":4.8},{"e":4,"s":"b","w":4861,"f":5.05},{"e":4,"s":"b","w":4906,"f":5.4},{"e":4,"s":"b","w":4949,"f":5},{"e":4,"s":"b","w":4998,"f":4.75},{"e":4,"s":"b","w":5063,"f":4.9},{"e":4,"s":"b","w":5128,"f":5.4},{"e":4,"s":"b","w":5187,"f":5.8},{"e":4,"s":"b","w":5233,"f":5.9},{"e":4,"s":"b","w":5292,"f":5.85},{"e":4,"s":"b","w":5357,"f":5.7},{"e":4,"s":"b","w":5422,"f":5.6},{"e":4,"s":"b","w":5488,"f":5.3},{"e":4,"s":"b","w":5586,"f":4.7},{"e":4,"s":"b","w":5700,"f":4.45},{"e":4,"s":"b","w":5781,"f":5},{"e":4,"s":"b","w":5863,"f":5.45},{"e":4,"s":"b","w":5912,"f":5.3},{"e":4,"s":"b","w":5964,"f":5.1},{"e":4,"s":"b","w":6007,"f":4.8},{"e":4,"s":"b","w":6073,"f":4.1},{"e":4,"s":"b","w":6131,"f":3.85},{"e":4,"s":"b","w":6187,"f":4.3},{"e":4,"s":"b","w":6269,"f":4.9},{"e":4,"s":"b","w":6366,"f":5},{"e":4,"s":"b","w":6464,"f":5},{"e":4,"s":"b","w":6595,"f":4.4},{"e":4,"s":"b","w":6726,"f":4.1},{"e":4,"s":"b","w":6856,"f":3.95},{"e":4,"s":"b","w":7019,"f":3.85},{"e":4,"s":"b","w":7183,"f":3.8},{"e":4,"s":"b","w":7346,"f":3.75},{"e":4,"s":"b","w":7509,"f":3.7},{"e":4,"s":"b","w":7672,"f":3.8},{"e":4,"s":"b","w":7836,"f":3.8},{"e":4,"s":"b","w":7999,"f":3.6},{"e":4,"s":"b","w":8195,"f":3.4},{"e":4,"s":"b","w":8325,"f":3.5},{"e":4,"s":"b","w":8456,"f":3.8},{"e":4,"s":"b","w":8600,"f":4.15},
{"e":5,"s":"b","w":3300,"f":0.05},{"e":5,"s":"b","w":3398,"f":0.15},{"e":5,"s":"b","w":3496,"f":0.4},{"e":5,"s":"b","w":3594,"f":0.6},{"e":5,"s":"b","w":3659,"f":0.65},{"e":5,"s":"b","w":3724,"f":0.45},{"e":5,"s":"b","w":3790,"f":0.5},{"e":5,"s":"b","w":3855,"f":0.85},{"e":5,"s":"b","w":3904,"f":1.1},{"e":5,"s":"b","w":3943,"f":1.25},{"e":5,"s":"b","w":3986,"f":1.1},{"e":5,"s":"b","w":4035,"f":1},{"e":5,"s":"b","w":4084,"f":1.05},{"e":5,"s":"b","w":4149,"f":1},{"e":5,"s":"b","w":4214,"f":1.05},{"e":5,"s":"b","w":4280,"f":1.15},{"e":5,"s":"b","w":4312,"f":1.15},{"e":5,"s":"b","w":4361,"f":1},{"e":5,"s":"b","w":4426,"f":0.95},{"e":5,"s":"b","w":4492,"f":1.2},{"e":5,"s":"b","w":4541,"f":1.9},{"e":5,"s":"b","w":4583,"f":2.5},{"e":5,"s":"b","w":4616,"f":2.7},{"e":5,"s":"b","w":4655,"f":2.4},{"e":5,"s":"b","w":4704,"f":1.9},{"e":5,"s":"b","w":4753,"f":1.8},{"e":5,"s":"b","w":4802,"f":2},{"e":5,"s":"b","w":4867,"f":2.3},{"e":5,"s":"b","w":4923,"f":2.6},{"e":5,"s":"b","w":4965,"f":2.2},{"e":5,"s":"b","w":5014,"f":1.9},{"e":5,"s":"b","w":5079,"f":1.85},{"e":5,"s":"b","w":5145,"f":2.1},{"e":5,"s":"b","w":5210,"f":2.5},{"e":5,"s":"b","w":5259,"f":2.65},{"e":5,"s":"b","w":5308,"f":2.6},{"e":5,"s":"b","w":5357,"f":3},{"e":5,"s":"b","w":5422,"f":3.3},{"e":5,"s":"b","w":5488,"f":3.2},{"e":5,"s":"b","w":5586,"f":2.7},{"e":5,"s":"b","w":5700,"f":2.3},{"e":5,"s":"b","w":5781,"f":2.6},{"e":5,"s":"b","w":5863,"f":2.85},{"e":5,"s":"b","w":5912,"f":2.7},{"e":5,"s":"b","w":5964,"f":2.5},{"e":5,"s":"b","w":6007,"f":2.3},{"e":5,"s":"b","w":6089,"f":1.9},{"e":5,"s":"b","w":6131,"f":1.75},{"e":5,"s":"b","w":6187,"f":2.1},{"e":5,"s":"b","w":6269,"f":2.4},{"e":5,"s":"b","w":6366,"f":2.85},{"e":5,"s":"b","w":6464,"f":3.1},{"e":5,"s":"b","w":6546,"f":2.8},{"e":5,"s":"b","w":6628,"f":2.3},{"e":5,"s":"b","w":6758,"f":2},{"e":5,"s":"b","w":6922,"f":1.9},{"e":5,"s":"b","w":7085,"f":2},{"e":5,"s":"b","w":7248,"f":2.1},{"e":5,"s":"b","w":7379,"f":2.1},{"e":5,"s":"b","w":7509,"f":1.9},{"e":5,"s":"b","w":7640,"f":2.05},{"e":5,"s":"b","w":7770,"f":1.9},{"e":5,"s":"b","w":7901,"f":1.75},{"e":5,"s":"b","w":8032,"f":1.7},{"e":5,"s":"b","w":8195,"f":1.45},{"e":5,"s":"b","w":8293,"f":1.5},{"e":5,"s":"b","w":8423,"f":1.9},{"e":5,"s":"b","w":8521,"f":2.2},{"e":5,"s":"b","w":8600,"f":2.5}
]
},
"hconcat": [
 {
  "width": 541, "height": 556,
  "resolve": {"axis": {"x": "independent"}},
  "layer": [
   {
    "data": {"name": "specL"},
    "transform": [{"lookup": "s", "from": {"data": {"name": "namesL"}, "key": "s", "fields": ["n"]}}],
    "mark": {"type": "line", "strokeWidth": 1.6, "clip": true, "interpolate": "monotone"},
    "encoding": {
     "x": {"field": "w", "type": "quantitative", "scale": {"domain": [3300, 8600], "nice": false, "zero": false}, "axis": {"orient": "bottom", "title": "Wavelength (λ) in AA", "values": [4000, 5000, 6000, 7000, 8000], "format": "d", "tickSize": -5, "domain": false, "labelFontSize": 13.5, "titleFontSize": 16, "labelPadding": 5, "titlePadding": 5, "labelFlush": false}},
     "y": {"field": "f", "type": "quantitative", "scale": {"domain": [0, 16.68], "nice": false, "zero": false}, "axis": {"title": "Flux + offset", "labels": false, "ticks": false, "domain": false, "titleFontSize": 15, "titlePadding": 9}},
     "color": {"field": "n", "type": "nominal", "scale": {"domain": ["SNF20070531-011", "SNF20071003-016"], "range": ["#1c1870", "#2b93f0"]}, "legend": {"title": null}},
     "detail": {"field": "e", "type": "nominal"}
    }
   },
   {
    "data": {"name": "labL"},
    "mark": {"type": "text", "align": "left", "baseline": "middle", "fontSize": 16.5, "color": "#111111"},
    "encoding": {
     "x": {"field": "w", "type": "quantitative", "axis": {"orient": "top", "labels": false, "title": null, "tickSize": -5, "domain": false, "values": [4000, 5000, 6000, 7000, 8000]}},
     "y": {"field": "f", "type": "quantitative", "axis": {"title": "Flux + offset", "labels": false, "ticks": false, "domain": false, "titleFontSize": 15, "titlePadding": 9}},
     "text": {"field": "t", "type": "nominal"}
    }
   }
  ]
 },
 {
  "width": 541, "height": 556,
  "resolve": {"axis": {"x": "independent"}},
  "layer": [
   {
    "data": {"name": "specR"},
    "transform": [{"lookup": "s", "from": {"data": {"name": "namesR"}, "key": "s", "fields": ["n"]}}],
    "mark": {"type": "line", "strokeWidth": 1.6, "clip": true, "interpolate": "monotone"},
    "encoding": {
     "x": {"field": "w", "type": "quantitative", "scale": {"domain": [3300, 8600], "nice": false, "zero": false}, "axis": {"orient": "bottom", "title": "Wavelength (λ) in AA", "values": [4000, 5000, 6000, 7000, 8000], "format": "d", "tickSize": -5, "domain": false, "labelFontSize": 13.5, "titleFontSize": 16, "labelPadding": 5, "titlePadding": 5, "labelFlush": false}},
     "y": {"field": "f", "type": "quantitative", "scale": {"domain": [0, 16.68], "nice": false, "zero": false}, "axis": {"title": "Flux + offset", "labels": false, "ticks": false, "domain": false, "titleFontSize": 15, "titlePadding": 9}},
     "color": {"field": "n", "type": "nominal", "scale": {"domain": ["SNF20060908-004", "SNF20070806-026"], "range": ["#1c1870", "#2b93f0"]}, "legend": {"title": null}},
     "detail": {"field": "e", "type": "nominal"}
    }
   },
   {
    "data": {"name": "labR"},
    "mark": {"type": "text", "align": "left", "baseline": "middle", "fontSize": 16.5, "color": "#111111"},
    "encoding": {
     "x": {"field": "w", "type": "quantitative", "axis": {"orient": "top", "labels": false, "title": null, "tickSize": -5, "domain": false, "values": [4000, 5000, 6000, 7000, 8000]}},
     "y": {"field": "f", "type": "quantitative", "axis": {"title": "Flux + offset", "labels": false, "ticks": false, "domain": false, "titleFontSize": 15, "titlePadding": 9}},
     "text": {"field": "t", "type": "nominal"}
    }
   }
  ]
 }
],
"spacing": 87,
"bounds": "flush",
"resolve": {"scale": {"color": "independent"}}
}
